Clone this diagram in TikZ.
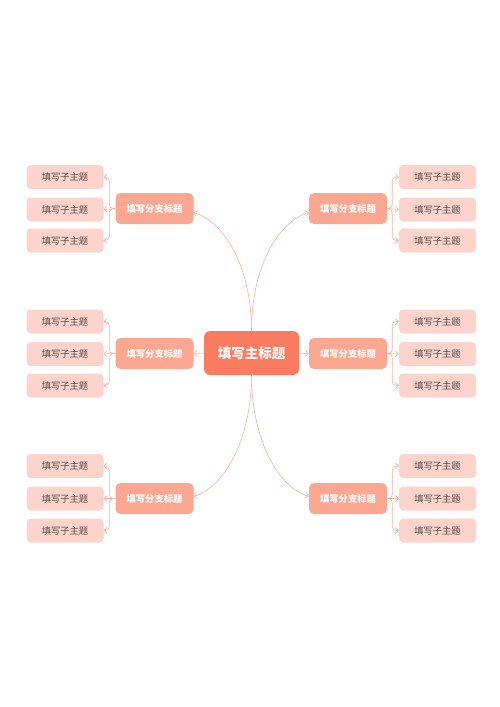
\documentclass[tikz,border=0pt]{standalone}
\usepackage{fontspec}
\setmainfont{Noto Sans CJK SC}
\usetikzlibrary{arrows.meta,calc}
\definecolor{mainc}{HTML}{FA7C60}
\definecolor{branchc}{HTML}{FBA792}
\definecolor{leafc}{HTML}{FDD4CC}
\definecolor{linec}{HTML}{EFB3A3}
\definecolor{leaftext}{HTML}{5A4B48}
\tikzset{
  mainbox/.style={fill=mainc, rounded corners=6pt, minimum width=95pt, minimum height=44pt, inner sep=0pt, text=white, font=\fontsize{13.5}{15}\selectfont\bfseries},
  branchbox/.style={fill=branchc, rounded corners=5pt, minimum width=78pt, minimum height=31pt, inner sep=0pt, text=white, font=\fontsize{9.3}{11}\selectfont\bfseries},
  leafbox/.style={fill=leafc, rounded corners=4pt, minimum width=77pt, minimum height=24pt, inner sep=0pt, text=leaftext, font=\fontsize{9.3}{11}\selectfont},
  conn/.style={draw=linec, line width=0.6pt, -{Straight Barb[length=3pt,width=6pt]}},
  bracket/.style={conn, rounded corners=4pt}
}
\begin{document}
\begin{tikzpicture}[x=1pt,y=-1pt]
\fill[white] (0,0) rectangle (500,707);
\useasboundingbox (0,0) rectangle (500,707);
\node[mainbox] (main) at (251.5,353) {填写主标题};
% branches
\node[branchbox] (bL1) at (154.5,208.5) {填写分支标题};
\node[branchbox] (bL2) at (154.5,353.5) {填写分支标题};
\node[branchbox] (bL3) at (154.5,498.5) {填写分支标题};
\node[branchbox] (bR1) at (348,208.5) {填写分支标题};
\node[branchbox] (bR2) at (348,353.5) {填写分支标题};
\node[branchbox] (bR3) at (348,498.5) {填写分支标题};
% leaves
\foreach \g/\ya/\yb/\yc in {1/177/209.5/240.5, 2/321.5/354/385.5, 3/466/498.5/530.5}{
  \node[leafbox] (lL\g a) at (65,\ya) {填写子主题};
  \node[leafbox] (lL\g b) at (65,\yb) {填写子主题};
  \node[leafbox] (lL\g c) at (65,\yc) {填写子主题};
  \node[leafbox] (lR\g a) at (437.5,\ya) {填写子主题};
  \node[leafbox] (lR\g b) at (437.5,\yb) {填写子主题};
  \node[leafbox] (lR\g c) at (437.5,\yc) {填写子主题};
  \draw[bracket] (bL\g.west) -- ++(-6,0) |- (lL\g a.east);
  \draw[conn] (bL\g.west) -- (lL\g b.east);
  \draw[bracket] (bL\g.west) -- ++(-6,0) |- (lL\g c.east);
  \draw[bracket] (bR\g.east) -- ++(5,0) |- (lR\g a.west);
  \draw[conn] (bR\g.east) -- (lR\g b.west);
  \draw[bracket] (bR\g.east) -- ++(5,0) |- (lR\g c.west);
}
% main connectors
\coordinate (tL) at ($(bL1.east)+(0,4)$);
\coordinate (tR) at ($(bR1.west)+(0,4)$);
\coordinate (uL) at ($(bL3.east)+(0,-2)$);
\coordinate (uR) at ($(bR3.west)+(0,-2)$);
\draw[conn] (main.north) .. controls +(0,-62) and +(32,10) .. (tL);
\draw[conn] (main.north) .. controls +(0,-62) and +(-32,10) .. (tR);
\draw[conn] (main.south) .. controls +(0,62) and +(32,-10) .. (uL);
\draw[conn] (main.south) .. controls +(0,62) and +(-32,-10) .. (uR);
\draw[conn] (main.west) -- (bL2.east);
\draw[conn] (main.east) -- (bR2.west);
\end{tikzpicture}
\end{document}
